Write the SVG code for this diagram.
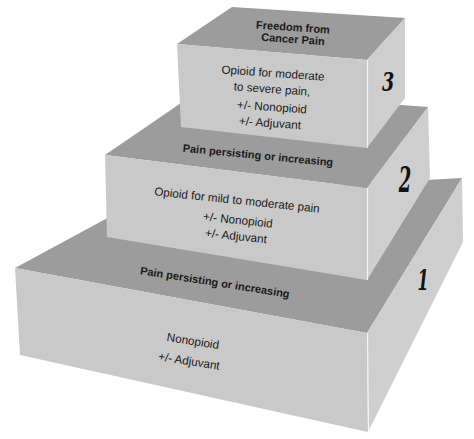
<svg xmlns="http://www.w3.org/2000/svg" width="474" height="439" viewBox="0 0 474 439">
<style>
.top{fill:#9c9c9c}
.front{fill:#c9c9c9}
.side{fill:#cecece}
.edge{stroke:#f4f4f4;stroke-width:1.2;fill:none}
.lbl{font-family:"Liberation Sans",Arial,sans-serif;font-size:11.7px;fill:#1a1a1a;text-anchor:middle}
.bold{font-family:"Liberation Sans",Arial,sans-serif;font-size:11px;font-weight:bold;fill:#1a1a1a;text-anchor:middle}
.num{font-family:"DejaVu Serif","Liberation Serif",serif;font-style:italic;font-weight:bold;fill:#111;text-anchor:middle}
</style>
<rect width="474" height="439" fill="#ffffff"/>
<g id="step1">
<polygon class="top" points="15,268 150,195 462,178 367,333"/>
<polygon class="front" points="15,268 367,333 368,432 20,355"/>
<polygon class="side" points="367,333 462,178 463,242 368,432"/>
<line class="edge" x1="367.5" y1="333" x2="368.5" y2="432"/>
<text class="bold" transform="rotate(9 215 282)" x="215" y="286">Pain persisting or increasing</text>
<text class="lbl" transform="rotate(9 193 341)" x="193" y="345">Nonopioid</text>
<text class="lbl" transform="rotate(9 189 361)" x="189" y="365">+/- Adjuvant</text>
<text class="num" font-size="20" transform="translate(423 290) scale(0.8 1.4)">1</text>
</g>
<g id="step2">
<polygon class="top" points="105,155 200,90 428,107 367,188"/>
<polygon class="front" points="105,155 367,188 367,280 107,237"/>
<polygon class="side" points="367,188 428,107 430,178 367,280"/>
<line class="edge" x1="367.5" y1="188" x2="367.5" y2="280"/>
<text class="bold" transform="rotate(5.5 258 155)" x="258" y="159">Pain persisting or increasing</text>
<text class="lbl" transform="rotate(6 237 200)" x="237" y="204">Opioid for mild to moderate pain</text>
<text class="lbl" transform="rotate(6 238 220)" x="238" y="224">+/- Nonopioid</text>
<text class="lbl" transform="rotate(6 236 236)" x="236" y="240">+/- Adjuvant</text>
<text class="num" font-size="24" transform="translate(405 192) scale(0.75 1.5)">2</text>
</g>
<g id="step3">
<polygon class="top" points="177,44 232,7 405,18 367,60"/>
<polygon class="front" points="177,44 367,60 367,148 181,127"/>
<polygon class="side" points="367,60 405,18 405,98 367,148"/>
<line class="edge" x1="367.5" y1="60" x2="367.5" y2="148"/>
<text class="bold" transform="rotate(4 293 27)" x="293" y="31">Freedom from</text>
<text class="bold" transform="rotate(4 293 39)" x="293" y="43">Cancer Pain</text>
<text class="lbl" transform="rotate(4 273 73)" x="273" y="77">Opioid for moderate</text>
<text class="lbl" transform="rotate(4 272 89)" x="272" y="93">to severe pain,</text>
<text class="lbl" transform="rotate(4 272 107)" x="272" y="111">+/- Nonopioid</text>
<text class="lbl" transform="rotate(4 270 123)" x="270" y="127">+/- Adjuvant</text>
<text class="num" font-size="22" transform="translate(388 91) scale(0.8 1.2)">3</text>
</g>
</svg>
